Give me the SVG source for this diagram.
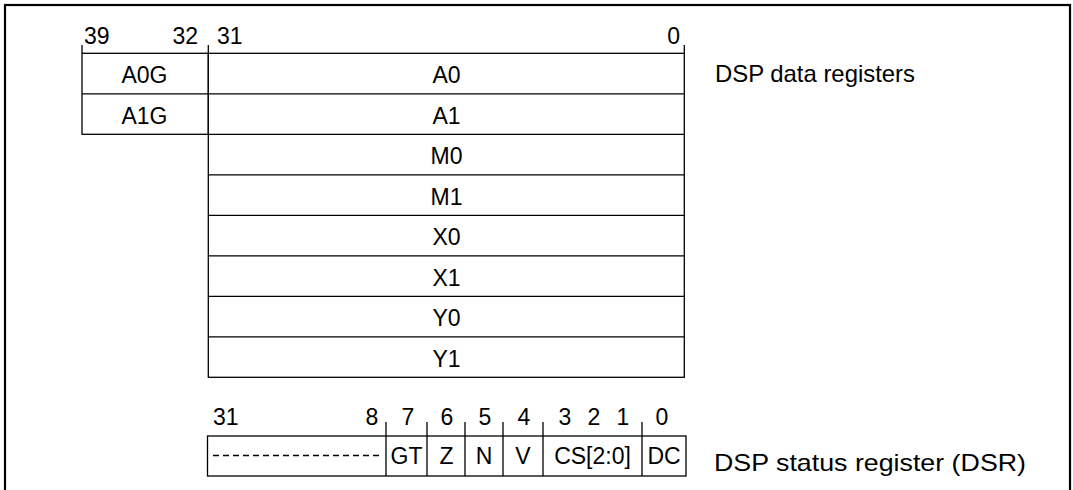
<svg xmlns="http://www.w3.org/2000/svg" width="1073" height="490" viewBox="0 0 1073 490">
<style>
text{font-family:"Liberation Sans",Arial,sans-serif;font-size:23px;fill:#000}
.c{text-anchor:middle}
.e{text-anchor:end}
.lbl{font-size:24px}
.box{fill:#fff;stroke:#000;stroke-width:1.3}
.ln{stroke:#000;stroke-width:1.3;fill:none}
</style>
<rect x="0" y="0" width="1073" height="490" fill="#fff"/>
<rect x="5" y="5" width="1065" height="500" fill="none" stroke="#000" stroke-width="2.2"/>
<g id="bit-labels-data">
<text x="84" y="44">39</text>
<text x="198" y="44" class="e">32</text>
<text x="217" y="44">31</text>
<text x="680" y="44" class="e">0</text>
</g>
<g id="connectors">
<path class="ln" d="M82,45V53.3M208.3,45V53.3M684.3,45V53.3"/>
<path class="ln" d="M386,422V476M427,422V476M465,422V476M503,422V476M543,422V476M642,422V476"/>
</g>
<g id="guard-regs">
<rect class="box" x="82" y="53.3" width="126.3" height="81"/>
<line class="ln" x1="82" y1="93.8" x2="208.3" y2="93.8"/>
<text x="144.5" y="83" class="c">A0G</text>
<text x="144.5" y="123.5" class="c">A1G</text>
</g>
<g id="data-regs">
<rect class="box" x="208.3" y="53.3" width="476" height="324"/>
<path class="ln" d="M208.3,93.8H684.3M208.3,134.3H684.3M208.3,174.8H684.3M208.3,215.3H684.3M208.3,255.8H684.3M208.3,296.3H684.3M208.3,336.8H684.3"/>
<text x="446.5" y="83" class="c">A0</text>
<text x="446.5" y="123.5" class="c">A1</text>
<text x="446.5" y="164" class="c">M0</text>
<text x="446.5" y="204.5" class="c">M1</text>
<text x="446.5" y="245" class="c">X0</text>
<text x="446.5" y="285.5" class="c">X1</text>
<text x="446.5" y="326" class="c">Y0</text>
<text x="446.5" y="366.5" class="c">Y1</text>
</g>
<g id="data-label">
<text x="715" y="82" class="lbl" textLength="200" lengthAdjust="spacingAndGlyphs">DSP data registers</text>
</g>
<g id="dsr">
<rect class="box" x="207.5" y="436" width="478.5" height="40"/>
<line class="ln" x1="213" y1="455.5" x2="380" y2="455.5" stroke-dasharray="6,4"/>
<path class="ln" d="M386,436V476M427,436V476M465,436V476M503,436V476M543,436V476M642,436V476"/>
<text x="406.5" y="464" class="c">GT</text>
<text x="446.5" y="464" class="c">Z</text>
<text x="484" y="464" class="c">N</text>
<text x="523" y="464" class="c">V</text>
<text x="592.5" y="464" class="c">CS[2:0]</text>
<text x="664" y="464" class="c">DC</text>
</g>
<g id="dsr-bits">
<text x="213" y="425">31</text>
<text x="372" y="425" class="c">8</text>
<text x="408" y="425" class="c">7</text>
<text x="447" y="425" class="c">6</text>
<text x="485" y="425" class="c">5</text>
<text x="524" y="425" class="c">4</text>
<text x="565" y="425" class="c">3</text>
<text x="594" y="425" class="c">2</text>
<text x="623" y="425" class="c">1</text>
<text x="662" y="425" class="c">0</text>
</g>
<g id="dsr-label">
<text x="714" y="471" class="lbl" textLength="312" lengthAdjust="spacingAndGlyphs">DSP status register (DSR)</text>
</g>
</svg>
